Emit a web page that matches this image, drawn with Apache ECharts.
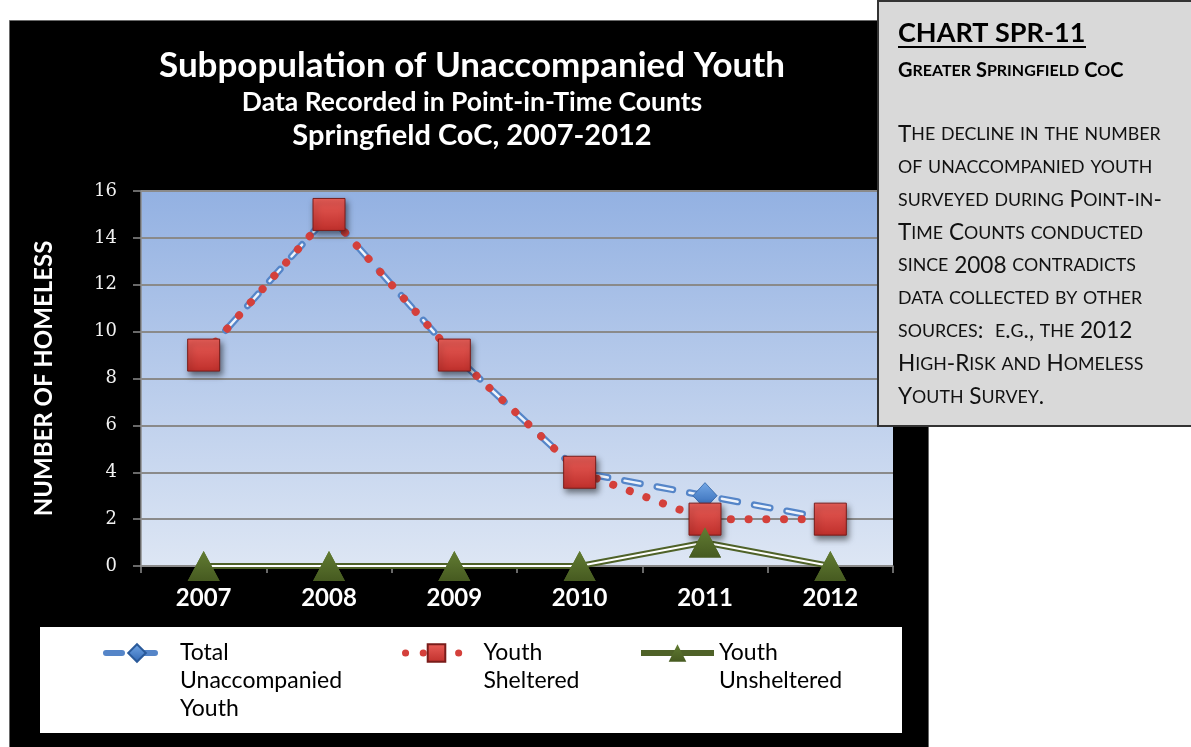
<!DOCTYPE html>
<html>
<head>
<meta charset="utf-8">
<script src="https://cdn.jsdelivr.net/npm/echarts@6/dist/echarts.min.js"></script>
<style>
  html, body { margin: 0; background: #fff; }
  #main { width: 1191px; height: 747px; }
</style>
</head>
<body>
<div id="main"></div>
<script>
var years = ["2007", "2008", "2009", "2010", "2011", "2012"];
var totalYouth = [9, 15, 9, 4, 3, 2];
var shelteredYouth = [9, 15, 9, 4, 2, 2];
var unshelteredYouth = [0, 0, 0, 0, 1, 0];
var yMin = 0, yMax = 16, yStep = 2;

var boxTitle = "CHART SPR-11";
var boxSubtitle = "Greater Springfield CoC";
var boxLines = [
  "The decline in the number",
  "of unaccompanied youth",
  "surveyed during Point-in-",
  "Time Counts conducted",
  "since 2008 contradicts",
  "data collected by other",
  "sources:  e.g., the 2012",
  "High-Risk and Homeless",
  "Youth Survey."
];

// fake small caps: lowercase letters become smaller capitals
function smallCaps(line) {
  var out = "", run = "", kind = null;
  for (var i = 0; i < line.length; i++) {
    var ch = line[i];
    var k = (ch >= "a" && ch <= "z") ? "s" : "L";
    if (k !== kind && run) { out += "{" + kind + "|" + run + "}"; run = ""; }
    kind = k;
    run += k === "s" ? ch.toUpperCase() : ch;
  }
  if (run) out += "{" + kind + "|" + run + "}";
  return out;
}

var font = "Lato, 'Open Sans', sans-serif";
var chartDom = document.getElementById("main");
var myChart = echarts.init(chartDom);

var blueDash = [16, 17];
var legendBase = {
  orient: "horizontal",
  padding: 0,
  itemGap: 0,
  itemWidth: 62,
  itemHeight: 22,
  selectedMode: false,
  textStyle: { fontFamily: font, fontSize: 23, color: "#000", lineHeight: 28 }
};

// leading blank lines keep the first text line level with the icon
var option = {
  backgroundColor: "#fff",
  animation: false,
  title: {
    left: 472,
    top: 47,
    padding: 0,
    textAlign: "center",
    text: "{a|Subpopulation of Unaccompanied Youth}\n{b|Data Recorded in Point-in-Time Counts}\n{c|Springfield CoC, 2007-2012}",
    textStyle: {
      rich: {
        a: { fontFamily: font, fontWeight: "bold", fontSize: 35, color: "#fff", lineHeight: 38, align: "center" },
        b: { fontFamily: font, fontWeight: "bold", fontSize: 26.5, color: "#fff", lineHeight: 34, align: "center" },
        c: { fontFamily: font, fontWeight: "bold", fontSize: 29, color: "#fff", lineHeight: 34, align: "center" }
      }
    }
  },
  legend: [
    Object.assign({}, legendBase, {
      left: 103, top: 583,
      lineStyle: { width: 6 },
      data: [{ name: "Total Unaccompanied Youth", textStyle: { padding: [0, 0, 0, 7] } }],
      formatter: function () { return "\n\nTotal\nUnaccompanied\nYouth"; }
    }),
    Object.assign({}, legendBase, {
      left: 402, top: 611,
      lineStyle: { width: 7 },
      data: [{ name: "Youth Sheltered", textStyle: { padding: [0, 0, 0, 11] } }],
      formatter: function () { return "\nYouth\nSheltered"; }
    }),
    Object.assign({}, legendBase, {
      left: 638, top: 611,
      itemWidth: 73,
      lineStyle: { width: 6 },
      data: [{ name: "Youth Unsheltered", textStyle: { padding: [0, 0, 0, 0] } }],
      formatter: function () { return "\nYouth\nUnsheltered"; }
    })
  ],
  grid: {
    left: 141, right: 298, top: 191, bottom: 181,
    show: true,
    borderWidth: 0,
    outerBoundsMode: "none",
    backgroundColor: new echarts.graphic.LinearGradient(0, 0, 0, 1, [
      { offset: 0, color: "#93b1e2" },
      { offset: 1, color: "#dde6f4" }
    ])
  },
  xAxis: {
    type: "category",
    data: years,
    boundaryGap: true,
    axisLine: { lineStyle: { color: "#8c8c8c", width: 1.5 } },
    axisTick: { show: true, length: 7, lineStyle: { color: "#8c8c8c", width: 1.5 } },
    axisLabel: { color: "#fff", fontFamily: font, fontWeight: "bold", fontSize: 24, margin: 20 },
    splitLine: { show: false }
  },
  yAxis: {
    type: "value",
    min: yMin, max: yMax, interval: yStep,
    name: "NUMBER OF HOMELESS",
    nameLocation: "middle",
    nameRotate: 90,
    nameGap: 85,
    nameMoveOverlap: false,
    nameTextStyle: { color: "#fff", fontFamily: font, fontWeight: "bold", fontSize: 24 },
    axisLine: { show: true, lineStyle: { color: "#8c8c8c", width: 1.5 } },
    axisTick: { show: true, length: 8, lineStyle: { color: "#8c8c8c", width: 1.5 } },
    axisLabel: { color: "#f2f2f2", fontFamily: "'DejaVu Serif', serif", fontSize: 18, margin: 24 },
    splitLine: { show: true, lineStyle: { color: "#8a8a8a", width: 2 } }
  },
  series: [
    {
      name: "Total Unaccompanied Youth",
      type: "line",
      data: totalYouth,
      z: 2,
      symbol: "diamond",
      symbolSize: [24, 26],
      itemStyle: {
        color: new echarts.graphic.LinearGradient(0, 0, 0, 1, [
          { offset: 0, color: "#74a8e6" },
          { offset: 1, color: "#2f66b3" }
        ]),
        borderColor: "#2a5a9a", borderWidth: 0.5
      },
      lineStyle: { color: "#5585c8", width: 7, type: blueDash, cap: "round" }
    },
    {
      name: "total-inner",
      type: "line",
      data: totalYouth,
      z: 2,
      symbol: "none",
      silent: true,
      lineStyle: { color: "#eef3fb", width: 2.5, type: blueDash, cap: "round" }
    },
    {
      name: "total-points",
      type: "line",
      data: totalYouth,
      z: 2,
      silent: true,
      symbol: "diamond",
      symbolSize: [24, 26],
      itemStyle: {
        color: new echarts.graphic.LinearGradient(0, 0, 0, 1, [
          { offset: 0, color: "#74a8e6" },
          { offset: 1, color: "#2f66b3" }
        ]),
        borderColor: "#2a5a9a", borderWidth: 0.5
      },
      lineStyle: { width: 0 }
    },
    {
      name: "Youth Sheltered",
      type: "line",
      data: shelteredYouth,
      z: 2,
      symbol: "rect",
      symbolSize: 32,
      itemStyle: {
        color: new echarts.graphic.LinearGradient(0, 0, 0, 1, [
          { offset: 0, color: "#e95e58" },
          { offset: 1, color: "#bf2f2b" }
        ]),
        borderColor: "#7a1c1a", borderWidth: 1,
        shadowBlur: 6, shadowColor: "rgba(0,0,0,0.5)", shadowOffsetX: 2, shadowOffsetY: 4
      },
      lineStyle: { color: "#d4403b", width: 8, type: [0.1, 17.6], cap: "round" }
    },
    {
      name: "Youth Unsheltered",
      type: "line",
      data: unshelteredYouth,
      z: 2,
      symbol: "triangle",
      symbolSize: [32, 30],
      itemStyle: {
        color: new echarts.graphic.LinearGradient(0, 0, 0, 1, [
          { offset: 0, color: "#627c33" },
          { offset: 1, color: "#465a20" }
        ])
      },
      lineStyle: { color: "#4f6228", width: 6 }
    },
    {
      name: "unsheltered-inner",
      type: "line",
      data: unshelteredYouth,
      z: 2,
      symbol: "none",
      silent: true,
      lineStyle: { color: "#ffffff", width: 2 }
    },
    {
      name: "unsheltered-points",
      type: "line",
      data: unshelteredYouth,
      z: 2,
      silent: true,
      symbol: "triangle",
      symbolSize: [32, 30],
      itemStyle: {
        color: new echarts.graphic.LinearGradient(0, 0, 0, 1, [
          { offset: 0, color: "#627c33" },
          { offset: 1, color: "#465a20" }
        ])
      },
      lineStyle: { width: 0 }
    }
  ],
  graphic: [
    {
      type: "rect", z: -10, silent: true,
      shape: { x: 9.5, y: 20.5, width: 919, height: 740 },
      style: { fill: "#000", stroke: "#6a6a6a", lineWidth: 1 }
    },
    {
      type: "rect", z: 1, silent: true,
      shape: { x: 40, y: 627, width: 862, height: 106 },
      style: { fill: "#fff" }
    },
    {
      type: "rect", z: 20, silent: true,
      shape: { x: 878, y: 1, width: 320, height: 425 },
      style: { fill: "#d9d9d9", stroke: "#333", lineWidth: 2 }
    },
    {
      type: "text", z: 21, silent: true,
      x: 898, y: 33,
      style: {
        text: boxTitle, fill: "#000", font: "bold 27px " + font,
        verticalAlign: "middle", align: "left"
      }
    },
    {
      type: "line", z: 21, silent: true,
      shape: { x1: 898, y1: 47, x2: 1086, y2: 47 },
      style: { stroke: "#000", lineWidth: 2 }
    },
    {
      type: "text", z: 21, silent: true,
      x: 898, y: 71,
      style: {
        text: smallCaps(boxSubtitle), fill: "#000",
        verticalAlign: "middle", align: "left",
        rich: {
          L: { fontFamily: font, fontWeight: "bold", fontSize: 20, fill: "#000" },
          s: { fontFamily: font, fontWeight: "bold", fontSize: 16, fill: "#000" }
        }
      }
    },
    {
      type: "text", z: 21, silent: true,
      x: 898, y: 118,
      style: {
        text: boxLines.map(smallCaps).join("\n"), fill: "#000",
        verticalAlign: "top", align: "left",
        rich: {
          L: { fontFamily: font, fontSize: 22.6, fill: "#111", lineHeight: 32.8 },
          s: { fontFamily: font, fontSize: 17.8, fill: "#111", lineHeight: 32.8 }
        }
      }
    }
  ]
};

option && myChart.setOption(option);
</script>
</body>
</html>
